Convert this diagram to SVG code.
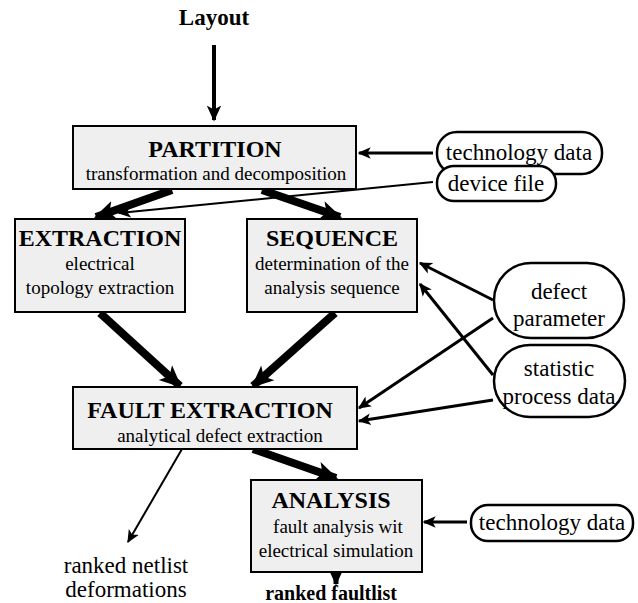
<svg xmlns="http://www.w3.org/2000/svg" width="638" height="603" viewBox="0 0 638 603" font-family="'Liberation Serif', Tinos, 'Times New Roman', Times, 'Nimbus Roman', 'Nimbus Roman No9 L', FreeSerif, 'Noto Serif', 'DejaVu Serif', 'Noto Serif CJK SC', serif">
<style>
.box{fill:#efefef;stroke:#000;stroke-width:2}
.pill{fill:#fff;stroke:#000;stroke-width:2.5}
text{font-family:"Liberation Serif",Tinos,"Times New Roman",Times,"Nimbus Roman","Nimbus Roman No9 L",FreeSerif,"Noto Serif","DejaVu Serif","Noto Serif CJK SC",serif;fill:#000;text-anchor:middle}
.t{font-weight:bold;font-size:24px}
.s{font-size:19px}
.p{font-size:23px}
.c{stroke:#000;fill:none}
</style>
<defs>
<marker id="hb" markerUnits="userSpaceOnUse" viewBox="0 0 20 20" refX="18" refY="10" markerWidth="22" markerHeight="22" orient="auto"><path d="M0,1 L20,10 L0,19 L5,10 z" fill="#000"/></marker>
<marker id="hm" markerUnits="userSpaceOnUse" viewBox="0 0 20 20" refX="18" refY="10" markerWidth="16" markerHeight="16" orient="auto"><path d="M0,1 L20,10 L0,19 L5,10 z" fill="#000"/></marker>
<marker id="hs" markerUnits="userSpaceOnUse" viewBox="0 0 20 20" refX="18" refY="10" markerWidth="13" markerHeight="13" orient="auto"><path d="M0,1 L20,10 L0,19 L5,10 z" fill="#000"/></marker>
</defs>
<g id="connectors">
<line class="c" x1="214" y1="45" x2="214" y2="120" stroke-width="4" marker-end="url(#hm)"/>
<line class="c" x1="433" y1="153" x2="359" y2="153" stroke-width="3" marker-end="url(#hs)"/>
<line class="c" x1="433" y1="182" x2="119" y2="213" stroke-width="2" marker-end="url(#hs)"/>
<line class="c" x1="172" y1="190" x2="96" y2="217" stroke-width="8" marker-end="url(#hb)"/>
<line class="c" x1="262" y1="190" x2="340" y2="217" stroke-width="8" marker-end="url(#hb)"/>
<line class="c" x1="100" y1="313" x2="180" y2="386" stroke-width="8" marker-end="url(#hb)"/>
<line class="c" x1="335" y1="313" x2="253" y2="386" stroke-width="8" marker-end="url(#hb)"/>
<line class="c" x1="493" y1="300" x2="420" y2="263" stroke-width="3" marker-end="url(#hs)"/>
<line class="c" x1="493" y1="318" x2="359" y2="408" stroke-width="3" marker-end="url(#hs)"/>
<line class="c" x1="493" y1="375" x2="420" y2="284" stroke-width="3" marker-end="url(#hs)"/>
<line class="c" x1="493" y1="400" x2="359" y2="421" stroke-width="3" marker-end="url(#hs)"/>
<line class="c" x1="182" y1="449" x2="128" y2="542" stroke-width="2" marker-end="url(#hs)"/>
<line class="c" x1="253" y1="449" x2="336" y2="478" stroke-width="8" marker-end="url(#hb)"/>
<line class="c" x1="467" y1="522" x2="424" y2="522" stroke-width="3" marker-end="url(#hs)"/>
<line class="c" x1="336" y1="573" x2="336" y2="584" stroke-width="5" marker-end="url(#hm)"/>
</g>
<g id="layout"><text x="214" y="25" style="font-weight:bold;font-size:23px">Layout</text></g>
<g id="partition">
<rect class="box" x="73" y="126" width="283" height="63"/>
<text class="t" x="215" y="157">PARTITION</text>
<text class="s" x="216" y="180">transformation and decomposition</text>
</g>
<g id="techdata1">
<rect class="pill" x="437" y="132" width="165" height="42" rx="20"/>
<text class="p" x="519" y="160">technology data</text>
</g>
<g id="devicefile">
<rect class="pill" x="437" y="166" width="119" height="35" rx="17"/>
<text class="p" x="496" y="191">device file</text>
</g>
<g id="extraction">
<rect class="box" x="15" y="219" width="170" height="93"/>
<text class="t" x="100" y="246">EXTRACTION</text>
<text class="s" x="100" y="270">electrical</text>
<text class="s" x="100" y="294">topology extraction</text>
</g>
<g id="sequence">
<rect class="box" x="247" y="219" width="170" height="93"/>
<text class="t" x="332" y="246">SEQUENCE</text>
<text class="s" x="332" y="270">determination of the</text>
<text class="s" x="332" y="294">analysis sequence</text>
</g>
<g id="defect">
<rect class="pill" x="494" y="263" width="130" height="75" rx="37"/>
<text class="p" x="559" y="299">defect</text>
<text class="p" x="559" y="326">parameter</text>
</g>
<g id="statistic">
<rect class="pill" x="494" y="345" width="131" height="72" rx="36"/>
<text class="p" x="559" y="376">statistic</text>
<text class="p" x="559" y="404">process data</text>
</g>
<g id="faultextraction">
<rect class="box" x="73" y="387" width="284" height="62"/>
<text class="t" x="210" y="418">FAULT EXTRACTION</text>
<text class="s" x="220" y="442">analytical defect extraction</text>
</g>
<g id="analysis">
<rect class="box" x="251" y="480" width="171" height="92"/>
<text class="t" x="331" y="508">ANALYSIS</text>
<text class="s" x="338" y="533">fault analysis wit</text>
<text class="s" x="336" y="557">electrical simulation</text>
</g>
<g id="techdata2">
<rect class="pill" x="471" y="505" width="162" height="36" rx="17"/>
<text class="p" x="552" y="530">technology data</text>
</g>
<g id="netlist">
<text class="p" x="126" y="573">ranked netlist</text>
<text class="p" x="126" y="597">deformations</text>
</g>
<g id="faultlist"><text x="331" y="600" style="font-weight:bold;font-size:20px">ranked faultlist</text></g>
</svg>
